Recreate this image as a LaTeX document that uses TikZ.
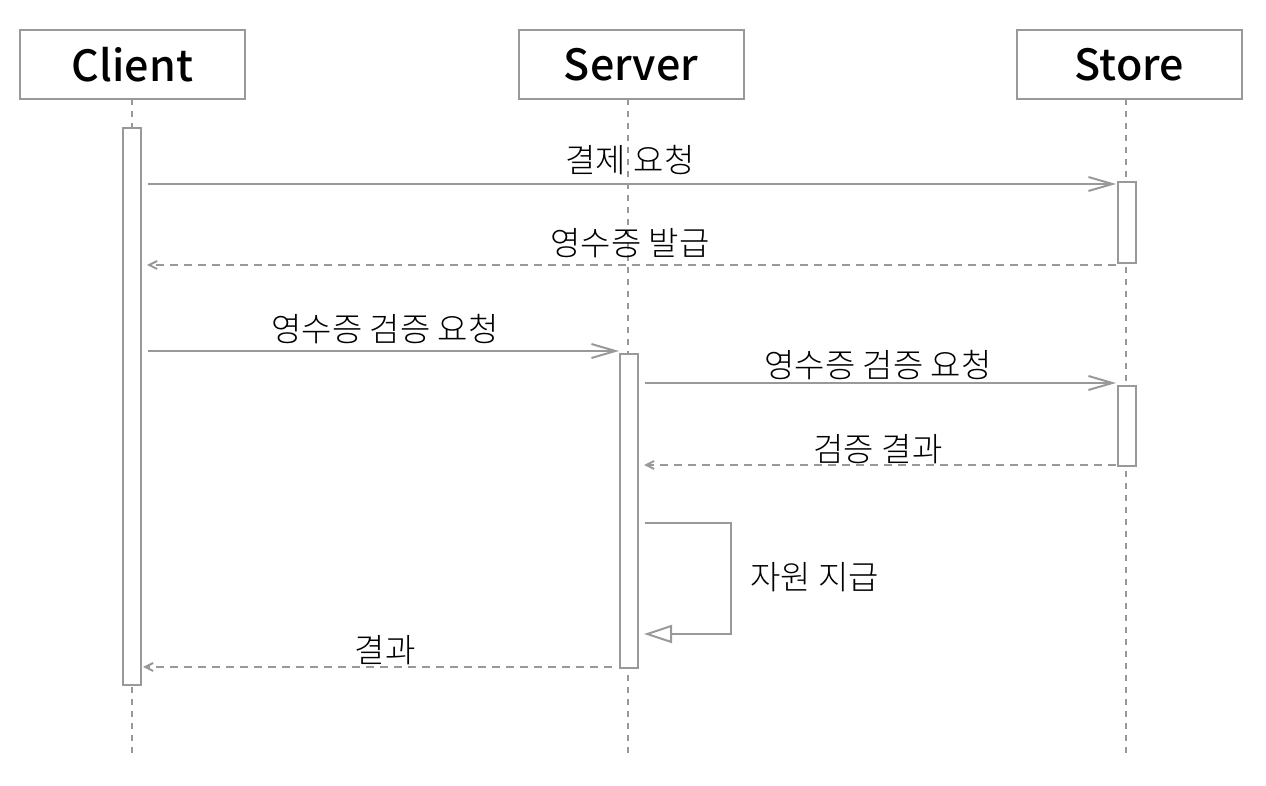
\documentclass[tikz,border=0pt]{standalone}
\usepackage{fontspec}
\setmainfont{Noto Sans CJK KR}
\newfontfamily\headfont{Noto Sans CJK KR}[UprightFont={* Medium}]
\newfontfamily\labelfont{Noto Sans CJK KR}[UprightFont={* Light}]
\usetikzlibrary{arrows.meta}

\definecolor{seqgray}{HTML}{999999}

\tikzset{
  actor/.style={draw=seqgray, line width=1pt, fill=white, minimum width=112.5pt,
    minimum height=34.5pt, inner sep=0pt, font=\headfont\fontsize{21.5}{24}\selectfont},
  act/.style={draw=seqgray, line width=1pt, fill=white, minimum width=9pt, inner sep=0pt},
  life/.style={draw=seqgray, line width=0.7pt, dash pattern=on 3pt off 3pt},
  msg/.style={draw=seqgray, line width=1pt, -{Straight Barb[length=12pt,width=7pt,line width=1pt]}},
  reply/.style={draw=seqgray, line width=1pt, dash pattern=on 4pt off 3pt,
    -{Straight Barb[length=4pt,width=4pt,line width=1pt]}},
  selfmsg/.style={draw=seqgray, line width=1pt, -{Triangle[open,length=14pt,width=9pt,line width=1pt]}},
  lbl/.style={inner sep=0pt, font=\labelfont\fontsize{16.5}{19}\selectfont}
}

\begin{document}
\begin{tikzpicture}[x=0.5pt,y=-0.5pt]
  \useasboundingbox (0,0) rectangle (1266,786);

  \def\ybot{757}

  % lifelines
  \foreach \n/\x in {client/132,server/628,store/1126}
    \draw[life] (\x,99) -- (\x,\ybot);

  % actors
  \node[actor] (client) at (132.5,64.5) {Client};
  \node[actor] (server) at (631,64.5) {Server};
  \node[actor] (store) at (1129.5,64.5) {Store};

  % activations
  \node[act, minimum height=278.5pt] (cact) at (132,406.5) {};
  \node[act, minimum height=40.5pt] (sact1) at (1127,222.5) {};
  \node[act, minimum height=157pt] (vact) at (629,511) {};
  \node[act, minimum height=40pt] (sact2) at (1127,426) {};

  % message ends
  \coordinate (m1a) at (148,184);   \coordinate (m1b) at (1116,184);
  \coordinate (m2a) at (1116,265);  \coordinate (m2b) at (147,265);
  \coordinate (m3a) at (148,351);   \coordinate (m3b) at (619,351);
  \coordinate (m4a) at (645,383);   \coordinate (m4b) at (1116,383);
  \coordinate (m5a) at (1116,465);  \coordinate (m5b) at (644,465);
  \coordinate (m6a) at (645,523);   \coordinate (m6b) at (644,634);
  \coordinate (m7a) at (612,667);   \coordinate (m7b) at (143,667);

  % messages
  \draw[msg] (m1a) -- (m1b);
  \draw[reply] (m2a) -- (m2b);
  \draw[msg] (m3a) -- (m3b);
  \draw[msg] (m4a) -- (m4b);
  \draw[reply] (m5a) -- (m5b);
  \draw[selfmsg] (m6a) -- (731,523) -- (731,634) -- (m6b);
  \draw[reply] (m7a) -- (m7b);

  % labels
  \node[lbl] (l1) at (630,160) {결제 요청};
  \node[lbl] (l2) at (630,243) {영수증 발급};
  \node[lbl] (l3) at (385,329) {영수증 검증 요청};
  \node[lbl] (l4) at (878,365) {영수증 검증 요청};
  \node[lbl] (l5) at (878,449) {검증 결과};
  \node[lbl, anchor=west] (l6) at (750,577) {자원 지급};
  \node[lbl] (l7) at (385,650) {결과};
\end{tikzpicture}
\end{document}
